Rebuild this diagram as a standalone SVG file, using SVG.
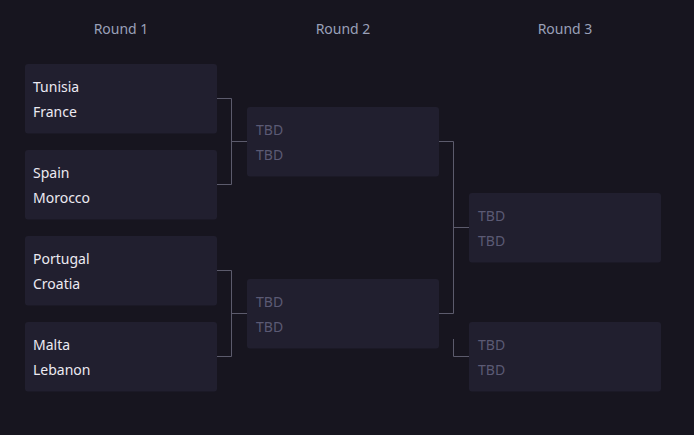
<svg xmlns="http://www.w3.org/2000/svg" width="694" height="435" viewBox="0 0 694 435">
<style>
.bg{fill:#17151f}
.box{fill:#211f2f}
.hd{font-family:"Noto Sans","Open Sans",sans-serif;font-size:14px;fill:#9aa0b8;text-anchor:middle}
.tm{font-family:"Noto Sans","Open Sans",sans-serif;font-size:14px;fill:#eceaf2}
.tbd{font-family:"Noto Sans","Open Sans",sans-serif;font-size:14px;fill:#5b5a74}
.ln{fill:none;stroke:#5c5b6c;stroke-width:1}
</style>
<rect class="bg" x="0" y="0" width="694" height="435"/>
<g id="headers">
<text class="hd" x="121" y="34">Round 1</text>
<text class="hd" x="343" y="34">Round 2</text>
<text class="hd" x="565" y="34">Round 3</text>
</g>
<g id="connectors">
<path class="ln" d="M217 98.5H231.5V184.5H217M231.5 141.5H247"/>
<path class="ln" d="M217 270.5H231.5V356.5H217M231.5 313.5H247"/>
<path class="ln" d="M439 141.5H453.5V313.5H439M453.5 227.5H469"/>
<path class="ln" d="M453.5 339V356.5H469"/>
</g>
<g id="m1"><rect class="box" x="25" y="64" width="192" height="69.5" rx="3"/><text class="tm" x="33" y="92">Tunisia</text><text class="tm" x="33" y="117">France</text></g>
<g id="m2"><rect class="box" x="25" y="150" width="192" height="69.5" rx="3"/><text class="tm" x="33" y="178">Spain</text><text class="tm" x="33" y="203">Morocco</text></g>
<g id="m3"><rect class="box" x="25" y="236" width="192" height="69.5" rx="3"/><text class="tm" x="33" y="264">Portugal</text><text class="tm" x="33" y="289">Croatia</text></g>
<g id="m4"><rect class="box" x="25" y="322" width="192" height="69.5" rx="3"/><text class="tm" x="33" y="350">Malta</text><text class="tm" x="33" y="375">Lebanon</text></g>
<g id="m5"><rect class="box" x="247" y="107" width="192" height="69.5" rx="3"/><text class="tbd" x="256" y="135">TBD</text><text class="tbd" x="256" y="160">TBD</text></g>
<g id="m6"><rect class="box" x="247" y="279" width="192" height="69.5" rx="3"/><text class="tbd" x="256" y="307">TBD</text><text class="tbd" x="256" y="332">TBD</text></g>
<g id="m7"><rect class="box" x="469" y="193" width="192" height="69.5" rx="3"/><text class="tbd" x="478" y="221">TBD</text><text class="tbd" x="478" y="246">TBD</text></g>
<g id="m8"><rect class="box" x="469" y="322" width="192" height="69.5" rx="3"/><text class="tbd" x="478" y="350">TBD</text><text class="tbd" x="478" y="375">TBD</text></g>
</svg>
